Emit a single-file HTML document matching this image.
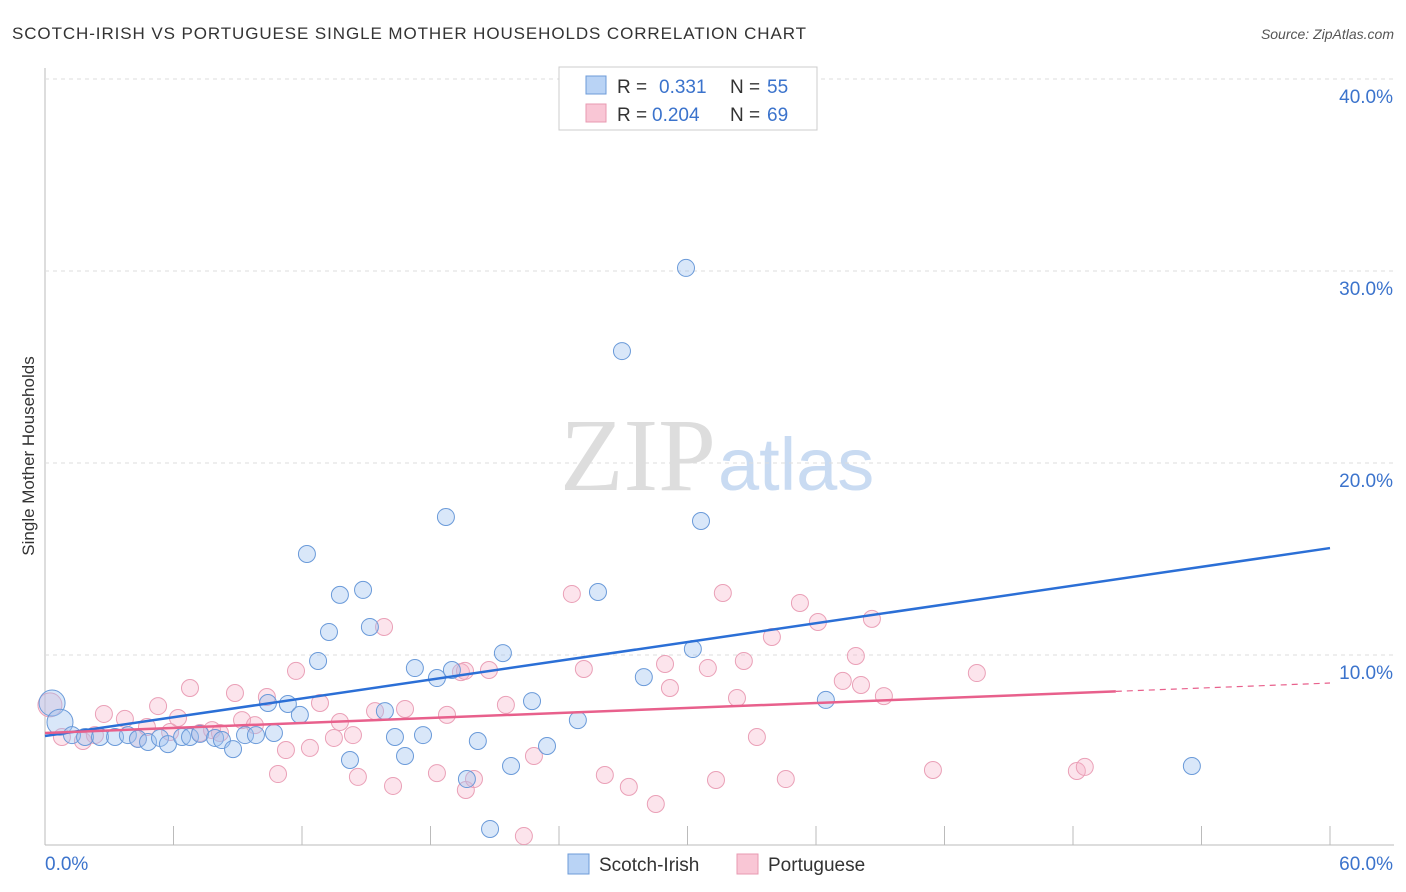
<!DOCTYPE html>
<html><head><meta charset="utf-8"><style>
body{margin:0;background:#fff;font-family:"Liberation Sans",sans-serif;}
#wrap{position:relative;width:1406px;height:892px;overflow:hidden;}
</style></head><body>
<div id="wrap">
<svg id="svg" width="1406" height="892" xmlns="http://www.w3.org/2000/svg">
<text x="12" y="39" font-size="17" fill="#333" font-family="Liberation Sans" textLength="794" lengthAdjust="spacing">SCOTCH-IRISH VS PORTUGUESE SINGLE MOTHER HOUSEHOLDS CORRELATION CHART</text>
<text x="1394" y="39" font-size="14" fill="#555" font-style="italic" text-anchor="end">Source: ZipAtlas.com</text>
<text x="34" y="456" font-size="17" fill="#333" transform="rotate(-90 34 456)" text-anchor="middle">Single Mother Households</text>
<text x="716" y="490" font-size="104" fill="#ddd" text-anchor="end" font-family="Liberation Serif">ZIP</text>
<text x="718" y="490" font-size="74" fill="#c9dbf2">atlas</text>
<g id="grid"></g><g id="pts"></g><g id="lines"></g>
<g>
<rect x="559" y="67" width="258" height="63" fill="#fff" stroke="#ccc"/>
<rect x="586" y="76" width="20" height="18" fill="#b9d3f5" stroke="#6d9bd8"/>
<rect x="586" y="104" width="20" height="18" fill="#f9c6d5" stroke="#e89ab1"/>
<text x="617" y="93" font-size="19" fill="#333">R =</text><text x="659" y="93" font-size="19" fill="#3b73cc">0.331</text>
<text x="730" y="93" font-size="19" fill="#333">N =</text><text x="767" y="93" font-size="19" fill="#3b73cc">55</text>
<text x="617" y="121" font-size="19" fill="#333">R =</text><text x="652" y="121" font-size="19" fill="#3b73cc">0.204</text>
<text x="730" y="121" font-size="19" fill="#333">N =</text><text x="767" y="121" font-size="19" fill="#3b73cc">69</text>
</g>
<g>
<rect x="568" y="854" width="21" height="20" fill="#b9d3f5" stroke="#6d9bd8"/>
<text x="599" y="871" font-size="19" fill="#333">Scotch-Irish</text>
<rect x="737" y="854" width="21" height="20" fill="#f9c6d5" stroke="#e89ab1"/>
<text x="768" y="871" font-size="19" fill="#333">Portuguese</text>
</g>
</svg>
</div>
<script>
const xTicks=[0,6,12,18,24,30,36,42,48,54,60];
const yTicks=[10,20,30,40];
const blueX=[0.33,0.7,1.26,1.87,2.57,3.27,3.87,4.34,4.81,5.37,5.74,6.4,6.77,7.24,7.94,8.26,8.78,9.34,9.85,10.41,10.69,11.34,11.9,12.23,12.75,13.26,13.77,14.24,14.85,15.17,15.87,16.34,16.81,17.27,17.65,18.3,18.72,19.0,19.7,20.21,20.78,21.38,21.76,22.74,23.44,24.88,25.82,26.94,27.96,29.93,30.25,30.63,36.46,53.55];
const blueY=[7.5,6.5,5.83,5.73,5.73,5.73,5.83,5.63,5.47,5.68,5.36,5.73,5.73,5.89,5.68,5.57,5.1,5.83,5.83,7.5,5.94,7.45,6.88,15.26,9.69,11.2,13.13,4.53,13.39,11.46,7.08,5.73,4.74,9.32,5.83,8.8,17.19,9.22,3.54,5.52,0.94,10.1,4.22,7.6,5.26,6.61,13.28,25.83,8.85,30.16,10.31,16.98,7.66,4.22];
const pinkX=[0.23,0.79,1.77,2.33,2.75,3.73,4.34,4.76,5.28,5.84,6.21,6.77,7.24,7.8,8.17,8.87,9.2,9.8,10.36,10.88,11.25,11.72,12.37,12.84,13.49,13.77,14.38,14.61,15.41,15.83,16.25,16.81,18.3,18.77,19.42,19.65,20.03,20.73,21.52,22.83,24.6,25.16,26.14,27.26,28.52,28.95,29.18,30.95,31.33,31.65,32.31,32.63,33.24,33.94,34.59,35.25,36.09,37.25,37.86,38.1,38.61,39.17,41.46,43.51,48.18,48.55,22.36,19.61];
const pinkY=[7.4,5.73,5.52,5.83,6.93,6.67,5.63,6.25,7.34,5.99,6.72,8.28,5.94,6.09,5.94,8.02,6.61,6.35,7.81,3.8,5.05,9.17,5.16,7.5,5.68,6.51,5.83,3.65,7.08,11.46,3.18,7.19,3.85,6.88,9.11,2.97,3.54,9.22,7.4,4.74,13.18,9.27,3.75,3.13,2.24,9.53,8.28,9.32,3.49,13.23,7.76,9.69,5.73,10.94,3.54,12.71,11.72,8.65,9.95,8.44,11.88,7.86,4.01,9.06,3.96,4.17,0.57,9.17];
const blueTrend=[5.78,15.57];
const pinkTrend=[5.94,8.54];
const pinkSolidEnd=50;
const X=v=>45+v*1285/60, Y=v=>847-v*19.2;
const NS="http://www.w3.org/2000/svg";
function mk(t,a,p){const e=document.createElementNS(NS,t);for(const k in a)e.setAttribute(k,a[k]);p.appendChild(e);return e;}
const grid=document.getElementById('grid');
mk('line',{x1:45,y1:68,x2:45,y2:845,stroke:'#bbb'},grid);
mk('line',{x1:45,y1:845,x2:1394,y2:845,stroke:'#bbb'},grid);
mk('line',{x1:45,y1:79,x2:1394,y2:79,stroke:'#ddd','stroke-dasharray':'4,4'},grid);
yTicks.forEach(v=>{
 const l=mk('line',{x1:45,y1:Y(v),x2:1394,y2:Y(v),stroke:'#ddd','stroke-dasharray':'4,4'},grid);
 
 
 const t=mk('text',{x:1393,y:Y(v)+24,'font-size':19,fill:'#3b73cc','text-anchor':'end'},grid);
 t.textContent=v.toFixed(1)+'%';
 
 
});
xTicks.forEach(v=>{
 if(v>0){const l=mk('line',{x1:X(v),y1:826,x2:X(v),y2:845,stroke:'#bbb'},grid);
 
 }
});
const x0=mk('text',{x:45,y:870,'font-size':19,fill:'#3b73cc'},grid);x0.textContent=xTicks[0].toFixed(1)+'%';


const x1=mk('text',{x:1393,y:870,'font-size':19,fill:'#3b73cc','text-anchor':'end'},grid);x1.textContent=xTicks[xTicks.length-1].toFixed(1)+'%';


const pts=document.getElementById('pts');
function dots(xs,ys,fill,stroke,name){xs.forEach((x,i)=>{
 const c=mk('circle',{cx:X(x),cy:Y(ys[i]),r:i<2&&name=='blue-point'?13:(i==0?12:8.5),fill:fill,stroke:stroke,'stroke-width':1},pts);
 
 
});}
dots(pinkX,pinkY,'rgba(246,178,200,0.35)','#eaa0b7','portuguese-point');
dots(blueX,blueY,'rgba(160,196,240,0.4)','#6a9ad9','blue-point');
const lines=document.getElementById('lines');
const bl=mk('line',{x1:X(0),y1:Y(blueTrend[0]),x2:X(60),y2:Y(blueTrend[1]),stroke:'#2b6fd6','stroke-width':2.5},lines);


const pm=pinkTrend[0]+(pinkTrend[1]-pinkTrend[0])*pinkSolidEnd/60;
const pl=mk('line',{x1:X(0),y1:Y(pinkTrend[0]),x2:X(pinkSolidEnd),y2:Y(pm),stroke:'#e8608c','stroke-width':2.5},lines);


const pd=mk('line',{x1:X(pinkSolidEnd),y1:Y(pm),x2:X(60),y2:Y(pinkTrend[1]),stroke:'#e8608c','stroke-width':1.2,'stroke-dasharray':'6,5'},lines);


</script>
</body></html>
